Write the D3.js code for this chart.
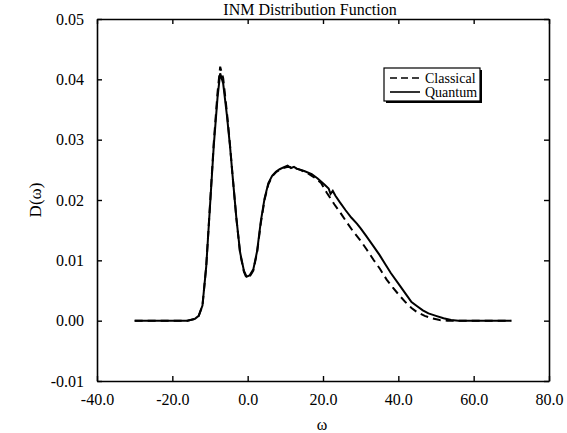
<!DOCTYPE html>
<html><head><meta charset="utf-8">
<script src="https://cdn.jsdelivr.net/npm/d3@7/dist/d3.min.js"></script>
<style>
html,body{margin:0;padding:0;background:#fff;}
svg{display:block;font-family:"Liberation Serif","Times New Roman",serif;}
</style></head>
<body><svg id="c" width="567" height="433"></svg>
<script>
const title = "INM Distribution Function";
const xLabel = "ω";
const yLabel = "D(ω)";
const xTicks = [-40, -20, 0, 20, 40, 60, 80];
const yTicks = [-0.01, 0.00, 0.01, 0.02, 0.03, 0.04, 0.05];
const seriesNames = ["Classical", "Quantum"];

const quantumW = [-30,-20,-16,-14,-13,-12,-11,-10,-9,-8,-7.3,-6.5,-5.5,-4.7,-4,-3,-2,-1,-0.3,0.5,1.5,2.5,3.5,4.5,5.5,6.5,7.5,8.5,9.5,10.6,11.5,12.3,13,15,17,18.5,20.3,21.5,22,22.6,23.3,24.5,26,27.5,29,30,31.5,33,35,36.5,38,40.4,42,43.5,45,46.5,48,50,52,54,56,70];
const quantumD = [0,0,0,0.0003,0.0008,0.0025,0.009,0.019,0.029,0.037,0.041,0.0393,0.034,0.029,0.024,0.017,0.0113,0.0083,0.0073,0.0075,0.0085,0.0115,0.0165,0.0203,0.0228,0.024,0.0247,0.0251,0.0254,0.0257,0.0253,0.0255,0.0252,0.0248,0.0243,0.0236,0.0226,0.0219,0.021,0.0215,0.0207,0.0196,0.0183,0.0171,0.0161,0.0153,0.014,0.0127,0.0109,0.0094,0.0079,0.0058,0.0044,0.0031,0.0024,0.0017,0.0012,0.0008,0.0004,0.0001,0,0];

const classicalW = [-30,-20,-16,-14,-13,-12,-11,-10,-9,-8,-7.3,-6.5,-5.5,-4.7,-4,-3,-2,-1,-0.3,0.5,1.5,2.5,3.5,4.5,5.5,6.5,7.5,8.5,9.5,10.6,12,14,16,18,19.5,21,23,24.5,26.3,28,29.8,31.6,33.4,35.1,36.9,38.5,40.4,42,43.5,45,47,49,51,53,70];
const classicalD = [0,0,0,0.0003,0.0008,0.0025,0.009,0.0192,0.0295,0.0378,0.0421,0.0402,0.0345,0.0292,0.024,0.017,0.0111,0.0081,0.0071,0.0073,0.0083,0.0113,0.0162,0.0201,0.0226,0.0239,0.0246,0.025,0.0253,0.0255,0.0254,0.025,0.0244,0.0236,0.0228,0.0212,0.0193,0.018,0.0163,0.0148,0.0134,0.0118,0.0101,0.0086,0.0068,0.0055,0.0041,0.003,0.0021,0.0014,0.0008,0.0004,0.0001,0,0];

const svg = d3.select("#c");
const L = 97, R = 549, T = 19, B = 381;
const x = d3.scaleLinear().domain([-40, 80]).range([L, R]);
const y = d3.scaleLinear().domain([-0.01, 0.05]).range([B, T]);
const hy = s => s.replace("\u2212", "-");

svg.append("text").attr("x", 310).attr("y", 15).attr("text-anchor", "middle")
  .attr("font-size", 16).text(title);

const tl = 5;
const gb = svg.append("g").attr("transform", `translate(0,${B})`)
  .call(d3.axisBottom(x).tickValues(xTicks).tickFormat(d => hy(d3.format(".1f")(d))).tickSizeInner(-tl).tickSizeOuter(0).tickPadding(13));
const gt = svg.append("g").attr("transform", `translate(0,${T})`)
  .call(d3.axisTop(x).tickValues(xTicks).tickFormat("").tickSizeInner(-tl).tickSizeOuter(0));
const gl = svg.append("g").attr("transform", `translate(${L},0)`)
  .call(d3.axisLeft(y).tickValues(yTicks).tickFormat(d => hy(d3.format(".2f")(d))).tickSizeInner(-tl).tickSizeOuter(0).tickPadding(13));
const gr = svg.append("g").attr("transform", `translate(${R},0)`)
  .call(d3.axisRight(y).tickValues(yTicks).tickFormat("").tickSizeInner(-tl).tickSizeOuter(0));
[gb, gt, gl, gr].forEach(g => {
  g.select(".domain").attr("stroke", "#000").attr("stroke-width", 1.6);
  g.selectAll(".tick line").attr("stroke", "#000").attr("stroke-width", 1.4);
  g.selectAll(".tick text").attr("font-family", "Liberation Serif").attr("font-size", 16).attr("fill", "#000");
});

svg.append("text").attr("x", 322).attr("y", 430).attr("text-anchor", "middle")
  .attr("font-size", 16).text(xLabel);
svg.append("text").attr("transform", `translate(41,${(T + B) / 2}) rotate(-90)`)
  .attr("text-anchor", "middle").attr("font-size", 17).text(yLabel);

const line = d3.line().x(d => x(d[0])).y(d => y(d[1]));
const qData = quantumW.map((w, i) => [w, quantumD[i]]);
const cData = classicalW.map((w, i) => [w, classicalD[i]]);

svg.append("path").datum(cData).attr("d", line).attr("fill", "none")
  .attr("stroke", "#000").attr("stroke-width", 2).attr("stroke-dasharray", "8,5");
svg.append("path").datum(qData).attr("d", line).attr("fill", "none")
  .attr("stroke", "#000").attr("stroke-width", 2);

const lg = svg.append("g");
const lx = 384, ly = 68, lw = 96, lh = 33;
lg.append("rect").attr("x", lx + 2).attr("y", ly + 2).attr("width", lw).attr("height", lh).attr("fill", "#000");
lg.append("rect").attr("x", lx).attr("y", ly).attr("width", lw).attr("height", lh).attr("fill", "#fff").attr("stroke", "#000").attr("stroke-width", 1.2);
const dashes = ["7,4", null];
seriesNames.forEach((n, i) => {
  const yy = ly + 10 + i * 14;
  const l = lg.append("line").attr("x1", lx + 6).attr("x2", lx + 36).attr("y1", yy).attr("y2", yy)
    .attr("stroke", "#000").attr("stroke-width", 1.6);
  if (dashes[i]) l.attr("stroke-dasharray", dashes[i]);
  lg.append("text").attr("x", lx + 41).attr("y", yy + 5).attr("font-size", 14).text(n);
});
</script></body></html>
